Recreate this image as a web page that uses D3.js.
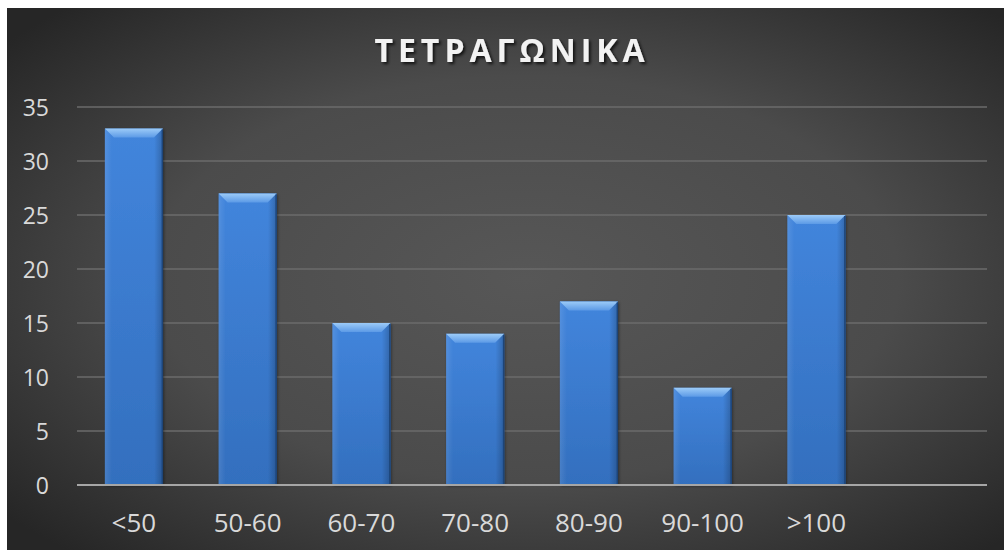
<!DOCTYPE html>
<html>
<head>
<meta charset="utf-8">
<script src="https://cdn.jsdelivr.net/npm/d3@7"></script>
<style>
  html, body { margin: 0; padding: 0; background: #ffffff; }
  svg { display: block; }
</style>
</head>
<body>
<svg id="chart" width="1004" height="550"></svg>
<script>
// Chart data
const title = "ΤΕΤΡΑΓΩΝΙΚΑ";
const categories = ["<50", "50-60", "60-70", "70-80", "80-90", "90-100", ">100"];
const values = [33, 27, 15, 14, 17, 9, 25];
const yTicks = [0, 5, 10, 15, 20, 25, 30, 35];
// one empty slot is left after the last category
const slots = categories.concat([""]);

const W = 1004, H = 550;
const frame = { x: 7, y: 8 };
const margin = { left: 77, right: 17, top: 107, bottom: 65 };

const svg = d3.select("#chart");
const defs = svg.append("defs");

// background: dark radial shade, lighter in the middle
const bg = defs.append("radialGradient").attr("id", "bg")
  .attr("cx", 0.52).attr("cy", 0.5).attr("r", 0.68);
bg.append("stop").attr("offset", 0).attr("stop-color", "#575757");
bg.append("stop").attr("offset", 0.55).attr("stop-color", "#4b4b4b");
bg.append("stop").attr("offset", 1).attr("stop-color", "#262626");

// bar body gradient
const body = defs.append("linearGradient").attr("id", "barBody")
  .attr("x1", 0).attr("y1", 0).attr("x2", 0).attr("y2", 1);
body.append("stop").attr("offset", 0).attr("stop-color", "#4285dc");
body.append("stop").attr("offset", 1).attr("stop-color", "#336fbe");

const side = defs.append("linearGradient").attr("id", "barSide")
  .attr("x1", 0).attr("y1", 0).attr("x2", 1).attr("y2", 0);
side.append("stop").attr("offset", 0).attr("stop-color", "#ffffff").attr("stop-opacity", 0.10);
side.append("stop").attr("offset", 0.12).attr("stop-color", "#ffffff").attr("stop-opacity", 0.0);
side.append("stop").attr("offset", 0.85).attr("stop-color", "#000000").attr("stop-opacity", 0.0);
side.append("stop").attr("offset", 1).attr("stop-color", "#000000").attr("stop-opacity", 0.22);

const bevel = defs.append("linearGradient").attr("id", "bevel")
  .attr("x1", 0).attr("y1", 0).attr("x2", 0).attr("y2", 1);
bevel.append("stop").attr("offset", 0).attr("stop-color", "#9ccbf8");
bevel.append("stop").attr("offset", 1).attr("stop-color", "#5c9ae6");

const shadow = defs.append("filter").attr("id", "shadow")
  .attr("x", "-20%").attr("y", "-20%").attr("width", "140%").attr("height", "140%");
shadow.append("feDropShadow").attr("dx", 1).attr("dy", 1).attr("stdDeviation", 1.5)
  .attr("flood-color", "#000").attr("flood-opacity", 0.45);

const titleShadow = defs.append("filter").attr("id", "titleShadow")
  .attr("x", "-10%").attr("y", "-30%").attr("width", "120%").attr("height", "160%");
titleShadow.append("feDropShadow").attr("dx", 2).attr("dy", 2).attr("stdDeviation", 1.5)
  .attr("flood-color", "#000").attr("flood-opacity", 0.75);

svg.append("rect")
  .attr("x", frame.x).attr("y", frame.y)
  .attr("width", W - frame.x).attr("height", H - frame.y)
  .attr("fill", "url(#bg)");

const x = d3.scaleBand()
  .domain(slots)
  .range([margin.left, W - margin.right])
  .paddingInner(0.49)
  .paddingOuter(0.245);

const y = d3.scaleLinear()
  .domain([0, 35])
  .range([H - margin.bottom, margin.top]);

// gridlines
svg.append("g")
  .selectAll("line")
  .data(yTicks.filter(d => d > 0))
  .join("line")
  .attr("x1", margin.left).attr("x2", W - margin.right)
  .attr("y1", d => y(d)).attr("y2", d => y(d))
  .attr("stroke", "#6b6b6b").attr("stroke-width", 1.5);

// y axis labels
const yAxis = svg.append("g")
  .attr("transform", `translate(${margin.left - 28},0)`)
  .call(d3.axisLeft(y).tickValues(yTicks).tickSize(0).tickPadding(0));
yAxis.select(".domain").remove();
yAxis.selectAll("text")
  .attr("fill", "#d9d9d9")
  .attr("font-family", "'Open Sans', sans-serif")
  .attr("font-size", 23)
  .attr("dy", "0.35em");

// bars
const bars = svg.append("g")
  .selectAll("g")
  .data(categories.map((c, i) => ({ c, v: values[i] })))
  .join("g");

bars.append("rect")
  .attr("x", d => x(d.c)).attr("y", d => y(d.v))
  .attr("width", x.bandwidth()).attr("height", d => y(0) - y(d.v))
  .attr("fill", "url(#barBody)")
  .attr("filter", "url(#shadow)");

bars.append("rect")
  .attr("x", d => x(d.c)).attr("y", d => y(d.v))
  .attr("width", x.bandwidth()).attr("height", d => y(0) - y(d.v))
  .attr("fill", "url(#barSide)");

// top bevel
const bv = 9;
bars.append("path")
  .attr("d", d => {
    const x0 = x(d.c), x1 = x0 + x.bandwidth(), t = y(d.v);
    return `M${x0},${t}L${x1},${t}L${x1 - bv},${t + bv}L${x0 + bv},${t + bv}Z`;
  })
  .attr("fill", "url(#bevel)");

// right edge
bars.append("line")
  .attr("x1", d => x(d.c) + x.bandwidth() - 0.5).attr("x2", d => x(d.c) + x.bandwidth() - 0.5)
  .attr("y1", d => y(d.v) + 1).attr("y2", y(0))
  .attr("stroke", "#1d4579").attr("stroke-width", 1.5);

// baseline
svg.append("line")
  .attr("x1", margin.left).attr("x2", W - margin.right)
  .attr("y1", y(0)).attr("y2", y(0))
  .attr("stroke", "#a6a6a6").attr("stroke-width", 2);

// x axis labels
const xAxis = svg.append("g")
  .attr("transform", `translate(0,${y(0) + 38})`)
  .call(d3.axisBottom(x).tickSize(0).tickPadding(0));
xAxis.select(".domain").remove();
xAxis.selectAll("text")
  .attr("fill", "#d9d9d9")
  .attr("font-family", "'Open Sans', sans-serif")
  .attr("font-size", 26)
  .attr("dy", "0.35em");

// title
svg.append("text")
  .attr("x", 512).attr("y", 62)
  .attr("text-anchor", "middle")
  .attr("fill", "#f2f2f2")
  .attr("font-family", "'Open Sans', sans-serif")
  .attr("font-weight", 700)
  .attr("font-size", 32)
  .attr("letter-spacing", 5)
  .attr("filter", "url(#titleShadow)")
  .text(title);
</script>
</body>
</html>
